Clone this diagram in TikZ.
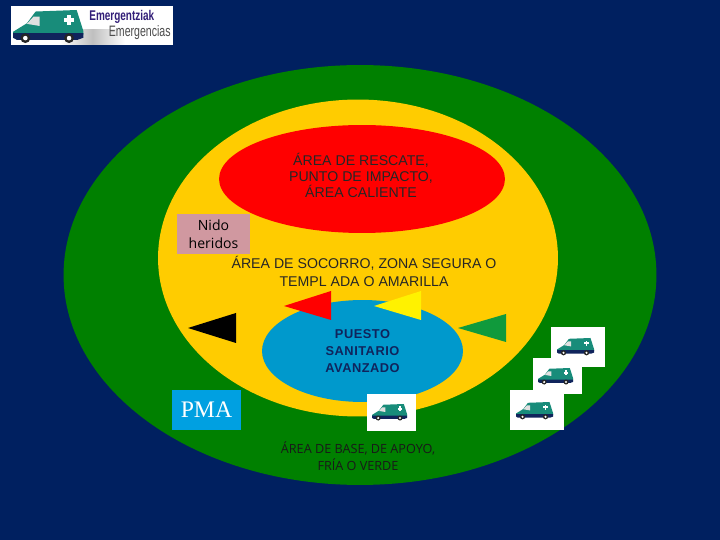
\documentclass[tikz,border=0pt]{standalone}
\usepackage{fontspec}
\usepackage{graphicx}
\setmainfont{Liberation Sans}
\newfontfamily\tahomafont{Open Sans}
\newfontfamily\timesfont{Liberation Serif}
\newfontfamily\spacedfont[LetterSpace=4]{Liberation Sans}
\usetikzlibrary{shapes, shapes.geometric, positioning}
\definecolor{navybg}{RGB}{0, 32, 96}
\definecolor{basegreen}{RGB}{0, 128, 0}
\definecolor{warmyellow}{RGB}{255, 204, 0}
\definecolor{hotred}{RGB}{255, 0, 0}
\definecolor{pmablue}{RGB}{0, 153, 204}
\definecolor{pmasky}{RGB}{0, 160, 225}
\definecolor{nidopink}{RGB}{208, 152, 160}
\definecolor{flaggreen}{RGB}{16, 154, 60}
\definecolor{vanteal}{RGB}{24, 140, 122}
\definecolor{vannavy}{RGB}{16, 36, 92}
\definecolor{logopurple}{RGB}{50, 30, 120}
\begin{document}
\begin{tikzpicture}[
  x=0.02cm, y=-0.02cm,
  zone/.style={ellipse, fill=#1, inner sep=0pt},
  areatxt/.style={align=center, inner sep=0pt, font=\fontsize{8.05}{9.1}\selectfont, text=black!85},
  whitebox/.style={rectangle, fill=white, inner sep=0pt},
  ambulance/.pic={
    \fill[vanteal] (0,11.5) -- (7.3,7) -- (11.9,0.8) -- (33.5,0) -- (37,11) -- (37,13) -- (0,13) -- cycle;
    \fill[vannavy] (0,12.2) -- (37,12.2) -- (37,14.6) -- (34,15.7) -- (2,15.7) -- (0,14.6) -- cycle;
    \fill[black!12] (7.3,7.3) -- (10.8,3.5) -- (14,3.5) -- (14,8.4) -- cycle;
    \fill[white] (28.6,2.6) rectangle (30.4,7.8);
    \fill[white] (27,4.3) rectangle (32,6.1);
    \fill[black!85] (6.5,14.8) circle (2.6);
    \fill[black!85] (29.5,14.8) circle (2.6);
    \fill[white] (6.5,14.8) circle (1.2);
    \fill[white] (29.5,14.8) circle (1.2);
  }
]
\fill[navybg] (0,0) rectangle (720,540);

% logo
\node[whitebox, minimum width=3.24cm, minimum height=0.78cm] (logo) at (92,25.5) {};
\shade[left color=white, right color=white, middle color=black!25] (60,30) rectangle (125,45);
\pic[scale=1.9] at (13,10) {ambulance};
\node[inner sep=0pt, font=\fontsize{8}{9}\selectfont\bfseries, text=logopurple, anchor=west] (logotop) at (89,17)
  {\scalebox{0.71}[1]{Emergentziak}};
\node[inner sep=0pt, font=\fontsize{8.6}{9}\selectfont, text=black!70, anchor=east] (logobot) at (171,33)
  {\scalebox{0.7}[1]{Emergencias}};

% zones
\node[zone=basegreen, minimum width=11.86cm, minimum height=8.4cm] (base) at (360,275) {};
\node[zone=warmyellow, minimum width=8cm, minimum height=6.34cm] (socorro) at (358,258) {};
\node[zone=hotred, minimum width=5.72cm, minimum height=2.16cm] (rescate) at (362,179) {};
\node[zone=pmablue, minimum width=4.02cm, minimum height=2.04cm] (puesto) at (362.5,351) {};

\node[areatxt] (rescatetxt) at (361,175.5) {ÁREA DE RESCATE,\\PUNTO DE IMPACTO,\\ÁREA CALIENTE};
\node[areatxt, font=\fontsize{8.05}{10.2}\selectfont] (socorrotxt) at (364,271) {ÁREA DE SOCORRO, ZONA SEGURA O\\TEMPL ADA O AMARILLA};
\node[align=center, inner sep=0pt, font=\fontsize{7.3}{9.9}\spacedfont\bfseries, text=vannavy] (puestotxt) at (362.5,351) {PUESTO\\SANITARIO\\AVANZADO};
\node[align=center, inner sep=0pt, font=\fontsize{7.2}{9.6}\tahomafont, text=black!90] (basetxt) at (358,456) {ÁREA DE BASE, DE APOYO,\\FRÍA O VERDE};

% triangles
\fill[black] (188,328) -- (236,313) -- (236,343) -- cycle;
\fill[hotred] (284,306) -- (331,291) -- (331,320) -- cycle;
\fill[yellow] (374,306) -- (421,291) -- (421,320) -- cycle;
\fill[flaggreen] (458,328) -- (506,314) -- (506,342) -- cycle;

% labels
\node[rectangle, fill=nidopink, minimum width=1.46cm, minimum height=0.8cm, align=center, inner sep=0pt,
  font=\fontsize{8}{10.2}\tahomafont, text=black] (nido) at (213.5,234) {Nido\\heridos};
\node[rectangle, fill=pmasky, minimum width=1.38cm, minimum height=0.8cm, inner sep=0pt,
  font=\fontsize{13.5}{14}\timesfont, text=white] (pma) at (206.5,410) {PMA};

% vans
\node[whitebox, minimum width=1.08cm, minimum height=0.8cm] (vanone) at (578,347) {};
\node[whitebox, minimum width=0.98cm, minimum height=0.72cm] (vantwo) at (557.5,376) {};
\node[whitebox, minimum width=1.08cm, minimum height=0.8cm] (vanthree) at (537,410) {};
\node[whitebox, minimum width=0.98cm, minimum height=0.74cm] (vanfour) at (391.5,412.5) {};
\pic at (557,338) {ambulance};
\pic[scale=0.95] at (538,368) {ambulance};
\pic at (516,402) {ambulance};
\pic[scale=0.95] at (372,404) {ambulance};
\end{tikzpicture}
\end{document}
